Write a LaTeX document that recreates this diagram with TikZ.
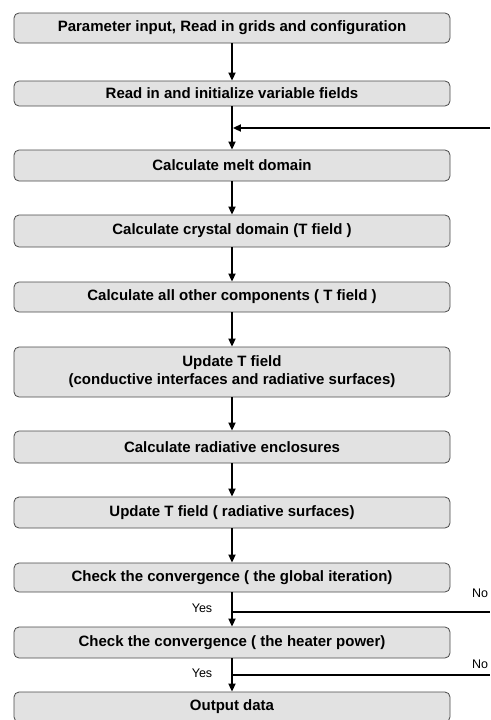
\documentclass[tikz,border=0pt]{standalone}
\usepackage{fontspec}
\setmainfont{Liberation Sans}
\usetikzlibrary{arrows.meta}
\definecolor{boxfill}{HTML}{E2E2E2}
\definecolor{boxline}{HTML}{4A4A4A}
\begin{document}
\begin{tikzpicture}[x=1pt,y=-1pt,
  stepbox/.style={draw=boxline, line width=0.8pt, fill=boxfill, rounded corners=5pt,
    minimum width=436pt, inner sep=0pt, align=center,
    font=\bfseries\fontsize{15}{18}\selectfont},
  arr/.style={line width=1.7pt, -{Triangle[length=8pt,width=7pt]}},
  ln/.style={line width=1.7pt},
  lbl/.style={font=\fontsize{12.5}{14}\selectfont, inner sep=0pt}]
\useasboundingbox (0,0) rectangle (490,720);
\node[stepbox, minimum height=30pt] (b1) at (232,28) {Parameter input, Read in grids and configuration};
\node[stepbox, minimum height=25pt] (b2) at (232,93.5) {Read in and initialize variable fields};
\node[stepbox, minimum height=31pt] (b3) at (232,165.5) {Calculate melt domain};
\node[stepbox, minimum height=32pt] (b4) at (232,231) {Calculate crystal domain (T field )};
\node[stepbox, minimum height=30pt] (b5) at (232,297) {Calculate all other components ( T field )};
\node[stepbox, minimum height=50pt] (b6) at (232,372) {Update T field\\(conductive interfaces and radiative surfaces)};
\node[stepbox, minimum height=32pt] (b7) at (232,447) {Calculate radiative enclosures};
\node[stepbox, minimum height=31pt] (b8) at (232,512.5) {Update T field ( radiative surfaces)};
\node[stepbox, minimum height=29pt] (b9) at (232,577.5) {Check the convergence ( the global iteration)};
\node[stepbox, minimum height=31pt] (b10) at (232,642.5) {Check the convergence ( the heater power)};
\node[stepbox, minimum height=30pt] (b11) at (232,707) {Output data};

\foreach \a/\b in {b1/b2,b2/b3,b3/b4,b4/b5,b5/b6,b6/b7,b7/b8,b8/b9,b9/b10,b10/b11}
  \draw[arr] (\a.south) -- (\b.north);

\coordinate (r1) at (490,128);
\coordinate (j1) at (b2.south |- r1);
\draw[arr] (r1) -- ([xshift=0.9pt]j1);

\coordinate (r2) at (490,612);
\coordinate (j2) at (b9.south |- r2);
\draw[ln] (j2) -- (r2);
\coordinate (r3) at (490,675);
\coordinate (j3) at (b10.south |- r3);
\draw[ln] (j3) -- (r3);

\node[lbl] (no1) at (480,593) {No};
\node[lbl] (no2) at (480,664) {No};
\node[lbl] (yes1) at (202,608) {Yes};
\node[lbl] (yes2) at (202,673) {Yes};
\end{tikzpicture}
\end{document}
